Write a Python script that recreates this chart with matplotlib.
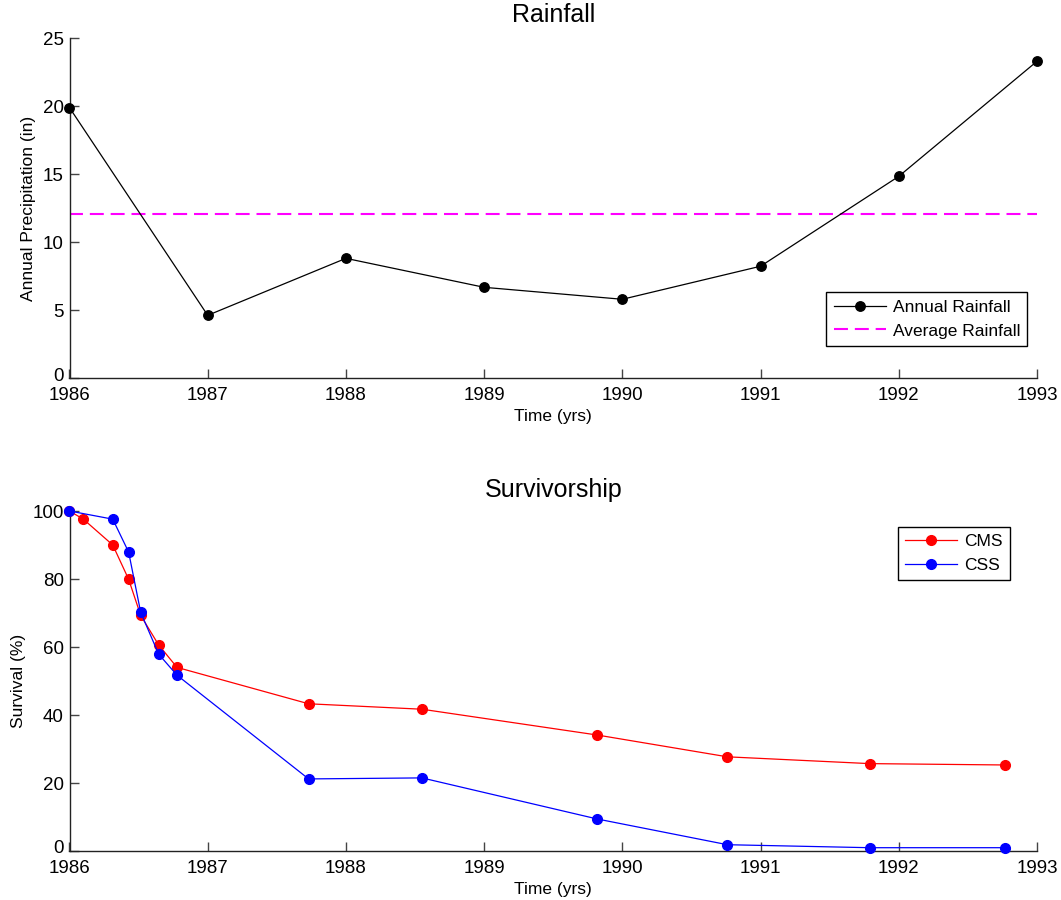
import matplotlib
matplotlib.use("Agg")
import matplotlib.pyplot as plt
from matplotlib.transforms import ScaledTranslation

plt.rcParams["font.family"] = ["Liberation Sans", "DejaVu Sans"]

# Annual rainfall
rain_years = [1986, 1987, 1988, 1989, 1990, 1991, 1992, 1993]
rain_inches = [19.9, 4.63, 8.82, 6.69, 5.81, 8.24, 14.85, 23.31]
avg_rain = 12.06

# Survivorship
cms_time = [1986.0, 1986.10, 1986.313, 1986.428, 1986.515, 1986.645, 1986.778,
            1987.73, 1988.55, 1989.82, 1990.76, 1991.79, 1992.77]
cms_surv = [100, 97.6, 90.0, 79.9, 69.3, 60.6, 54.0,
            43.3, 41.7, 34.1, 27.7, 25.7, 25.3]
css_time = [1986.0, 1986.313, 1986.428, 1986.515, 1986.645, 1986.778,
            1987.73, 1988.55, 1989.82, 1990.76, 1991.79, 1992.77]
css_surv = [100, 97.6, 87.9, 70.2, 57.9, 51.7,
            21.2, 21.5, 9.4, 1.85, 0.97, 0.97]

year_ticks = [1986, 1987, 1988, 1989, 1990, 1991, 1992, 1993]

W, H = 1061, 900
fig = plt.figure(figsize=(W / 100, H / 100), dpi=100)

left = 69.5 / W
width = (1037 - 69.5) / W
ax1 = fig.add_axes([left, (H - 378.3) / H, width, 340 / H])
ax2 = fig.add_axes([left, (H - 851) / H, width, 340 / H])

TICK_FS = 13.5
LABEL_FS = 12.5
TITLE_FS = 18
LEGEND_FS = 12.5


def style(ax):
    for s in ("top", "right"):
        ax.spines[s].set_visible(False)
    for s in ("left", "bottom"):
        ax.spines[s].set_linewidth(1.0)
        ax.spines[s].set_color("#222222")
    ax.tick_params(direction="in", length=6.5, width=1.0, color="#444444",
                   labelsize=TICK_FS)
    ax.tick_params(axis="x", pad=6.5)
    ax.tick_params(axis="y", pad=4.0)
    ax.set_xlim(1986, 1993)
    ax.set_xticks(year_ticks)
    ax.set_xticklabels([str(y) for y in year_ticks])
    ax.set_xlabel("Time (yrs)", fontsize=LABEL_FS, labelpad=3.5)


def lift_zero_label(ax):
    # keep the "0" label clear of the first year label beneath it
    lbl = ax.get_yticklabels()[0]
    lbl.set_transform(lbl.get_transform()
                      + ScaledTranslation(0, 3 / 72, fig.dpi_scale_trans))


def legend(ax, anchor):
    leg = ax.legend(loc="upper right", bbox_to_anchor=anchor,
                    borderaxespad=0, fancybox=False, framealpha=1,
                    edgecolor="black", fontsize=LEGEND_FS, handlelength=3.0,
                    borderpad=0.42, labelspacing=0.5, handletextpad=0.4)
    leg.get_frame().set_linewidth(1.0)
    return leg


# Rainfall panel
ax1.plot(rain_years, rain_inches, color="black", lw=0.9, marker="o",
         markersize=6.8, clip_on=False, label="Annual Rainfall", zorder=3)
ax1.plot([1986, 1993], [avg_rain, avg_rain], color="#ff00ff", lw=1.5,
         dashes=(6.7, 3.3), label="Average Rainfall", zorder=2)
ax1.set_ylim(0, 25)
ax1.set_yticks([0, 5, 10, 15, 20, 25])
ax1.set_ylabel("Annual Precipitation (in)", fontsize=LABEL_FS, labelpad=5)
ax1.set_title("Rainfall", fontsize=TITLE_FS, pad=11.5)
style(ax1)
lift_zero_label(ax1)
legend(ax1, (0.990, 0.253))

# Survivorship panel
ax2.plot(cms_time, cms_surv, color="red", lw=0.9, marker="o", markersize=7,
         clip_on=False, label="CMS", zorder=3)
ax2.plot(css_time, css_surv, color="blue", lw=0.9, marker="o", markersize=7,
         clip_on=False, label="CSS", zorder=4)
ax2.set_ylim(0, 100)
ax2.set_yticks([0, 20, 40, 60, 80, 100])
ax2.set_ylabel("Survival (%)", fontsize=LABEL_FS, labelpad=5)
ax2.set_title("Survivorship", fontsize=TITLE_FS, pad=10)
style(ax2)
lift_zero_label(ax2)
legend(ax2, (0.972, 0.954))

fig.savefig("out.png", dpi=100)
